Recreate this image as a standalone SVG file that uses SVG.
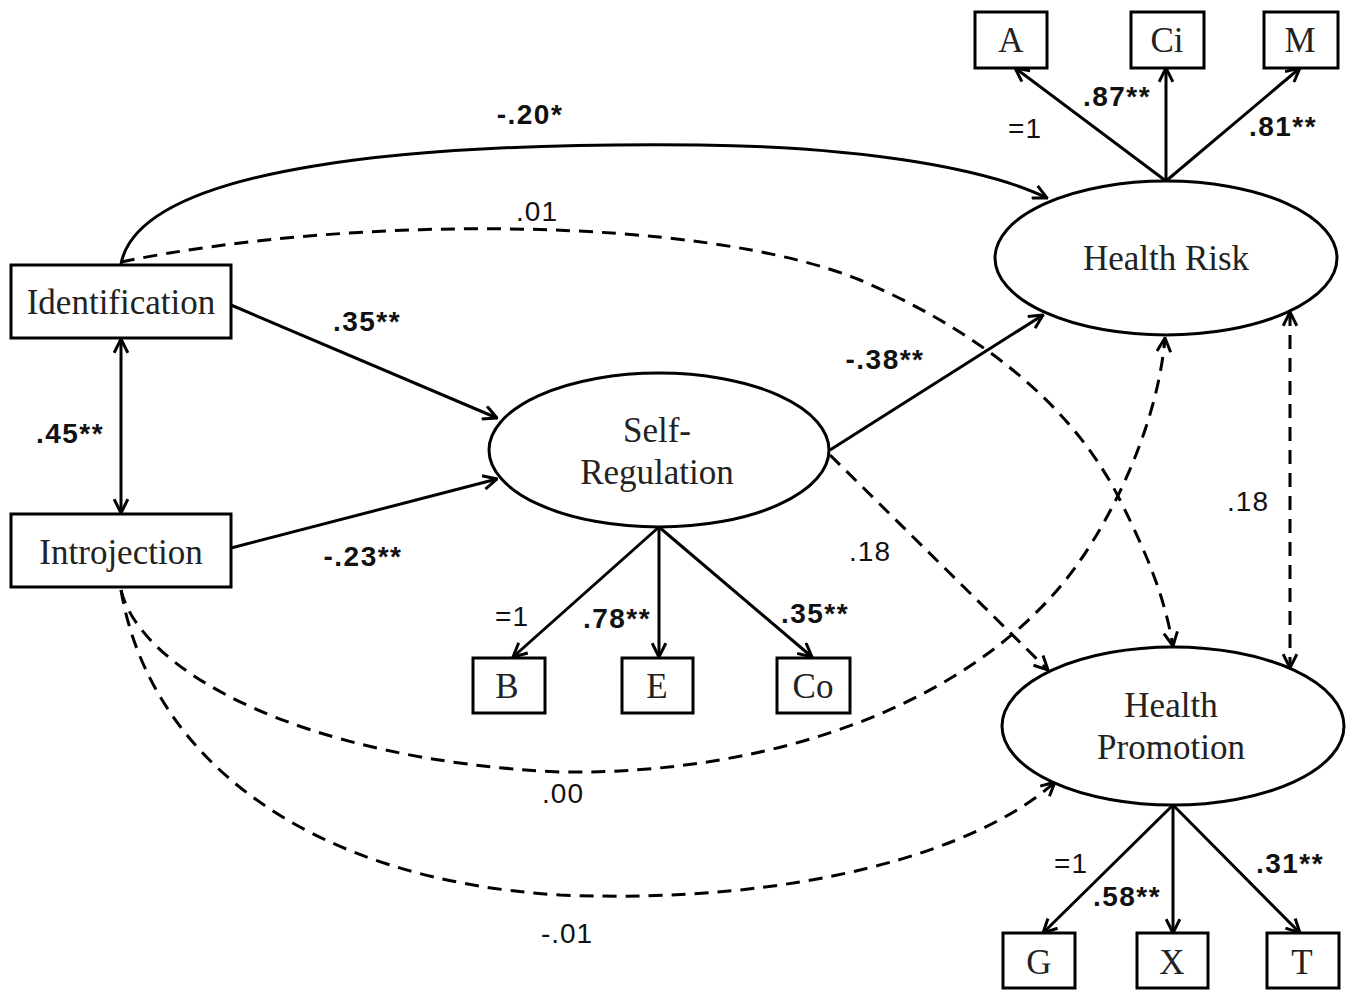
<svg xmlns="http://www.w3.org/2000/svg" width="1348" height="990" viewBox="0 0 1348 990">
<style>
.box{fill:#fff;stroke:#000;stroke-width:3}
.ell{fill:#fff;stroke:#000;stroke-width:3}
.nt{font-family:"Liberation Serif","Times New Roman",serif;font-size:35px;fill:#222;text-anchor:middle}
.ln{fill:none;stroke:#000;stroke-width:3}
.ds{fill:none;stroke:#000;stroke-width:3;stroke-dasharray:14 9}
.lb{font-family:"Liberation Sans",Arial,sans-serif;font-size:28px;letter-spacing:1px;fill:#111;text-anchor:middle}
.lbb{font-family:"Liberation Sans",Arial,sans-serif;font-size:28px;letter-spacing:1.5px;font-weight:bold;fill:#111;text-anchor:middle}
</style>
<defs>
<marker id="ah" viewBox="0 0 14 14" refX="13" refY="7" markerWidth="16" markerHeight="16" orient="auto-start-reverse" markerUnits="userSpaceOnUse">
<path d="M1,1 L13,7 L1,13" fill="none" stroke="#000" stroke-width="2.6"/>
</marker>
</defs>
<rect width="1348" height="990" fill="#fff"/>
<g id="connectors">
<path class="ln" d="M121,264 C140,165 420,142 700,145 C870,147 990,170 1047,198" marker-end="url(#ah)"/>
<path class="ds" d="M121,262 C350,215 700,215 860,280 C1000,340 1080,420 1120,500 C1150,560 1165,600 1173,646" marker-end="url(#ah)"/>
<path class="ds" d="M121,590 C140,670 300,760 560,772 C780,775 980,700 1077,565 C1117,509 1158,420 1165,338" marker-end="url(#ah)"/>
<path class="ds" d="M121,590 C150,760 310,880 560,895 C800,905 980,850 1055,782" marker-end="url(#ah)"/>
<path class="ln" d="M121,339 L121,513" marker-start="url(#ah)" marker-end="url(#ah)"/>
<path class="ln" d="M231,305 L497,418" marker-end="url(#ah)"/>
<path class="ln" d="M231,548 L497,479" marker-end="url(#ah)"/>
<path class="ln" d="M830,450 L1043,315" marker-end="url(#ah)"/>
<path class="ds" d="M830,455 L1048,670" marker-end="url(#ah)"/>
<path class="ds" d="M1290,312 L1290,668" marker-start="url(#ah)" marker-end="url(#ah)"/>
<path class="ln" d="M1166,181 L1015,68" marker-end="url(#ah)"/>
<path class="ln" d="M1166,181 L1166,68" marker-end="url(#ah)"/>
<path class="ln" d="M1166,181 L1300,68" marker-end="url(#ah)"/>
<path class="ln" d="M659,527 L513,657" marker-end="url(#ah)"/>
<path class="ln" d="M659,527 L659,657" marker-end="url(#ah)"/>
<path class="ln" d="M659,527 L812,657" marker-end="url(#ah)"/>
<path class="ln" d="M1173,805 L1043,933" marker-end="url(#ah)"/>
<path class="ln" d="M1173,805 L1173,933" marker-end="url(#ah)"/>
<path class="ln" d="M1173,805 L1300,933" marker-end="url(#ah)"/>
</g>
<g id="labels">
<text class="lbb" x="530" y="124">-.20*</text>
<text class="lb" x="537" y="221">.01</text>
<text class="lbb" x="367" y="331">.35**</text>
<text class="lbb" x="70" y="443">.45**</text>
<text class="lbb" x="363" y="566">-.23**</text>
<text class="lbb" x="885" y="369">-.38**</text>
<text class="lb" x="870" y="561">.18</text>
<text class="lb" x="1248" y="511">.18</text>
<text class="lb" x="1025" y="138">=1</text>
<text class="lbb" x="1117" y="106">.87**</text>
<text class="lbb" x="1283" y="136">.81**</text>
<text class="lb" x="512" y="626">=1</text>
<text class="lbb" x="617" y="628">.78**</text>
<text class="lbb" x="815" y="623">.35**</text>
<text class="lb" x="563" y="803">.00</text>
<text class="lb" x="567" y="943">-.01</text>
<text class="lb" x="1071" y="873">=1</text>
<text class="lbb" x="1127" y="906">.58**</text>
<text class="lbb" x="1290" y="873">.31**</text>
</g>
<g id="A"><rect class="box" x="975" y="12" width="72" height="56"/><text class="nt" x="1011" y="52">A</text></g>
<g id="Ci"><rect class="box" x="1131" y="12" width="73" height="56"/><text class="nt" x="1167" y="52">Ci</text></g>
<g id="M"><rect class="box" x="1264" y="12" width="74" height="56"/><text class="nt" x="1300" y="52">M</text></g>
<g id="HealthRisk"><ellipse class="ell" cx="1166" cy="258" rx="171" ry="77"/><text class="nt" x="1166" y="270">Health Risk</text></g>
<g id="Identification"><rect class="box" x="11" y="265" width="220" height="73"/><text class="nt" x="121" y="314">Identification</text></g>
<g id="Introjection"><rect class="box" x="11" y="514" width="220" height="73"/><text class="nt" x="121" y="564">Introjection</text></g>
<g id="SelfRegulation"><ellipse class="ell" cx="659" cy="450" rx="170" ry="77"/><text class="nt" x="657" y="442">Self-</text><text class="nt" x="657" y="484">Regulation</text></g>
<g id="B"><rect class="box" x="473" y="658" width="72" height="55"/><text class="nt" x="507" y="698">B</text></g>
<g id="E"><rect class="box" x="622" y="658" width="71" height="55"/><text class="nt" x="657" y="698">E</text></g>
<g id="Co"><rect class="box" x="777" y="658" width="73" height="55"/><text class="nt" x="813" y="698">Co</text></g>
<g id="HealthPromotion"><ellipse class="ell" cx="1173" cy="726" rx="171" ry="79"/><text class="nt" x="1171" y="717">Health</text><text class="nt" x="1171" y="759">Promotion</text></g>
<g id="G"><rect class="box" x="1003" y="933" width="72" height="55"/><text class="nt" x="1039" y="974">G</text></g>
<g id="X"><rect class="box" x="1137" y="933" width="71" height="55"/><text class="nt" x="1172" y="974">X</text></g>
<g id="T"><rect class="box" x="1267" y="933" width="72" height="55"/><text class="nt" x="1302" y="974">T</text></g>
</svg>
